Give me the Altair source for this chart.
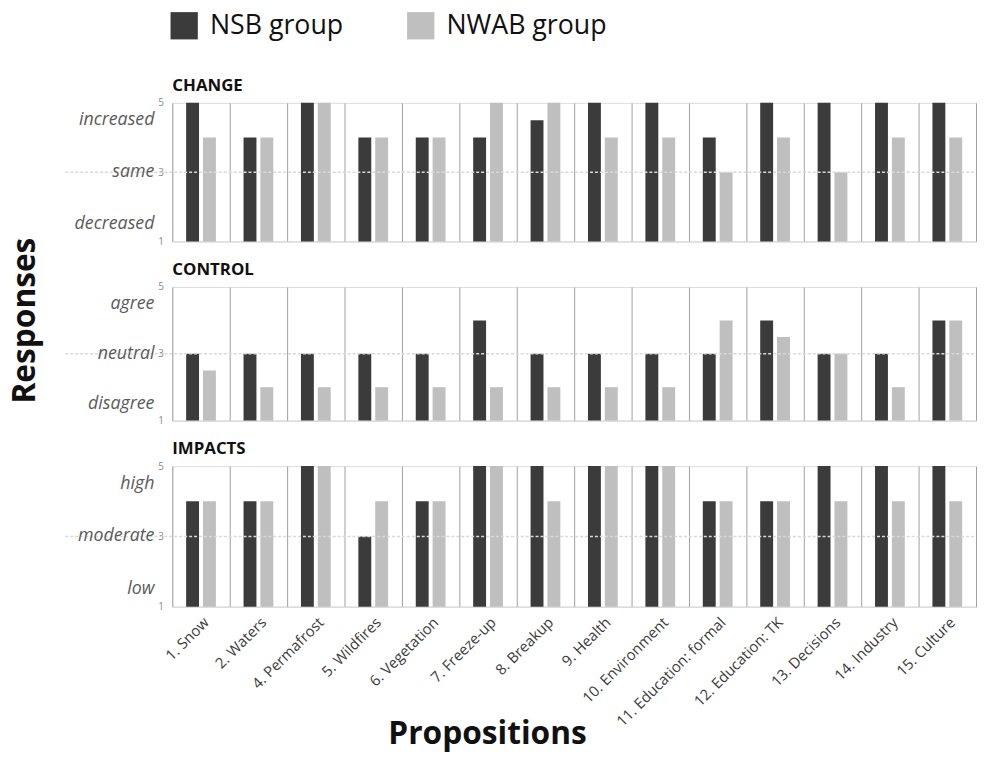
import altair as alt
import pandas as pd

props = ["1. Snow", "2. Waters", "4. Permafrost", "5. Wildfires", "6. Vegetation",
         "7. Freeze-up", "8. Breakup", "9. Health", "10. Environment",
         "11. Education: formal", "12. Education: TK", "13. Decisions",
         "14. Industry", "15. Culture"]
groups = ["NSB group", "NWAB group"]
colors = ["#3b3b3b", "#bfbfbf"]

change_nsb = [5, 4, 5, 4, 4, 4, 4.5, 5, 5, 4, 5, 5, 5, 5]
change_nwab = [4, 4, 5, 4, 4, 5, 5, 4, 4, 3, 4, 3, 4, 4]
control_nsb = [3, 3, 3, 3, 3, 4, 3, 3, 3, 3, 4, 3, 3, 4]
control_nwab = [2.5, 2, 2, 2, 2, 2, 2, 2, 2, 4, 3.5, 3, 2, 4]
impacts_nsb = [4, 4, 5, 3, 4, 5, 5, 5, 5, 4, 4, 5, 5, 5]
impacts_nwab = [4, 4, 5, 4, 4, 5, 4, 5, 5, 4, 4, 4, 4, 4]

panel_names = ["CHANGE", "CONTROL", "IMPACTS"]
change_words = ["increased", "same", "decreased"]
control_words = ["agree", "neutral", "disagree"]
impacts_words = ["high", "moderate", "low"]
word_levels = [4.5, 3, 1.5]
y_ticks = [1, 2, 3, 4, 5]

FONT = "Open Sans"
W = 812


def panel(name, nsb, nwab, words, height, last=False, show_legend=False, ytitle=False):
    df = pd.DataFrame({
        "prop": props * 2,
        "group": [g for g in groups for _ in props],
        "value": nsb + nwab,
    })
    xaxis = alt.Axis(
        title="Propositions" if last else None,
        labels=last, ticks=False, domain=True, domainColor="#d6d6d6",
        grid=True, gridColor="#a0a0a0", gridWidth=1, tickBand="extent",
        labelAngle=-45, labelFontSize=15, labelColor="#3c3c3c", labelFont=FONT,
        labelPadding=8, labelOverlap=False,
        titleFont=FONT, titleFontSize=32, titleFontWeight="bold", titleColor="#111111",
        titleX=318, titleY=138, titleAlign="center", titleBaseline="alphabetic",
    )
    yaxis = alt.Axis(values=y_ticks, title=None, domain=False, ticks=False, grid=False,
                     labelFontSize=10, labelColor="#8a8a8a", labelPadding=9, labelFont=FONT,
                     labelOverlap=False)
    if show_legend:
        legend = alt.Legend(title=None, orient="none", direction="horizontal",
                            legendX=-2, legendY=-92,
                            symbolType="square", symbolSize=760, symbolStrokeWidth=0,
                            labelFontSize=27, labelFont=FONT, labelColor="#111111",
                            labelOffset=12, columnPadding=64, labelLimit=400)
    else:
        legend = None
    yscale = alt.Scale(domain=[1, 5], nice=False, zero=False)
    bars = alt.Chart(df).mark_bar().encode(
        x=alt.X("prop:N", sort=props, axis=xaxis,
                scale=alt.Scale(paddingInner=0, paddingOuter=0)),
        xOffset=alt.XOffset("group:N", sort=groups,
                            scale=alt.Scale(paddingInner=0.235, paddingOuter=0.82)),
        y=alt.Y("value:Q", scale=yscale, axis=yaxis),
        y2=alt.datum(1),
        color=alt.Color("group:N", sort=groups,
                        scale=alt.Scale(domain=groups, range=colors), legend=legend),
    )
    rule = alt.Chart(pd.DataFrame({"lvl": [3]})).mark_rule(
        color="#d9d9d9", strokeWidth=1.5, strokeDash=[3, 2]
    ).encode(y=alt.Y("lvl:Q", scale=yscale), x=alt.value(-108), x2=alt.value(W))
    wdf = pd.DataFrame({"word": words, "level": word_levels})
    wtext = alt.Chart(wdf).mark_text(
        align="right", baseline="middle", fontStyle="italic", fontSize=18,
        font=FONT, color="#5a5a5a"
    ).encode(y=alt.Y("level:Q", scale=yscale), x=alt.value(-18), text="word:N")
    layers = [bars, rule, wtext]
    if ytitle:
        tdf = pd.DataFrame({"t": ["Responses"]})
        ttl = alt.Chart(tdf).mark_text(
            angle=270, fontSize=32, fontWeight="bold", font=FONT, color="#111111",
            align="center", baseline="middle"
        ).encode(text="t:N", x=alt.value(-149), y=alt.value(220))
        layers.append(ttl)
    return alt.layer(*layers).properties(
        width=W, height=height,
        title=alt.TitleParams(name, anchor="start", frame="group", fontSize=17,
                              font=FONT, fontWeight="bold", color="#111111", offset=3),
    )


p1 = panel("CHANGE", change_nsb, change_nwab, change_words, 140, show_legend=True, ytitle=True)
p2 = panel("CONTROL", control_nsb, control_nwab, control_words, 135)
p3 = panel("IMPACTS", impacts_nsb, impacts_nwab, impacts_words, 142, last=True)

chart = alt.vconcat(p1, p2, p3, spacing=46, bounds="flush").resolve_scale(
    color="shared"
).properties(
    padding={"left": 0, "top": 0, "right": 0, "bottom": 0}
).configure_view(stroke=None).configure(background="white")

chart.save("out.html", embed_options={"renderer": "svg", "actions": False})
